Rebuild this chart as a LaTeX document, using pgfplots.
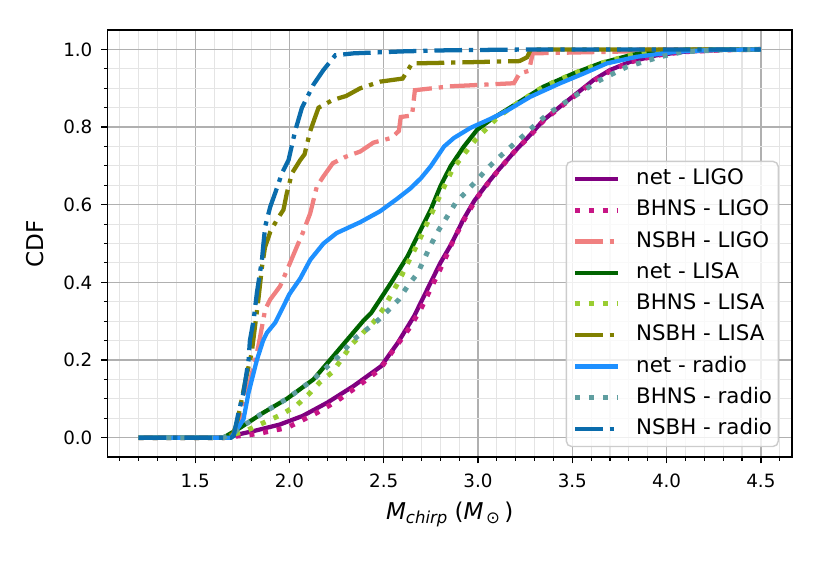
\documentclass[border=0pt]{standalone}
\usepackage{fontspec}
\setmainfont{DejaVu Sans}
\usepackage{pgfplots}
\pgfplotsset{compat=1.18}
\definecolor{cNetLIGO}{RGB}{128,0,128}
\definecolor{cBhnsLIGO}{RGB}{199,21,133}
\definecolor{cNsbhLIGO}{RGB}{240,128,128}
\definecolor{cNetLISA}{RGB}{0,100,0}
\definecolor{cBhnsLISA}{RGB}{154,205,50}
\definecolor{cNsbhLISA}{RGB}{128,128,0}
\definecolor{cNetRadio}{RGB}{30,144,255}
\definecolor{cBhnsRadio}{RGB}{95,158,160}
\definecolor{cNsbhRadio}{RGB}{10,108,172}
\definecolor{majgrid}{RGB}{176,176,176}
\definecolor{mingrid}{RGB}{228,228,228}
\definecolor{legedge}{RGB}{204,204,204}
\tikzset{
  solidline/.style={line width=2.4pt, line join=round},
  dotline/.style={line width=2.8pt, dash pattern=on 2.8pt off 5pt},
  dashdotline/.style={line width=2.4pt, dash pattern=on 15.5pt off 3.9pt on 2.4pt off 3.9pt},
}
\newcommand{\subtxt}[1]{\raisebox{-2.2pt}{\fontsize{9.3}{10}\selectfont #1}}
\begin{document}
\begin{tikzpicture}
\useasboundingbox (-60.5pt,-59.6pt) rectangle (401.9pt,257.1pt);
\begin{axis}[
  at={(0pt,0pt)}, anchor=south west, scale only axis,
  width=385pt, height=240.2pt,
  xmin=1.035, xmax=4.665, ymin=-0.05, ymax=1.05,
  xtick={1.5,2,2.5,3,3.5,4,4.5},
  minor xtick={1.1,1.2,1.3,1.4,1.6,1.7,1.8,1.9,2.1,2.2,2.3,2.4,2.6,2.7,2.8,2.9,3.1,3.2,3.3,3.4,3.6,3.7,3.8,3.9,4.1,4.2,4.3,4.4,4.6},
  ytick={0,0.2,0.4,0.6,0.8,1.0},
  minor ytick={0.05,0.1,0.15,0.25,0.3,0.35,0.45,0.5,0.55,0.65,0.7,0.75,0.85,0.9,0.95},
  grid=both,
  major grid style={color=majgrid, line width=0.8pt},
  minor grid style={color=mingrid, line width=0.6pt},
  tick align=outside, xtick pos=bottom, ytick pos=left,
  major tick length=3.5pt, minor tick length=2pt,
  every tick/.style={black, line width=0.8pt},
  every minor tick/.style={black, line width=0.6pt},
  axis line style={black, line width=0.8pt},
  /pgf/number format/assume math mode=true,
  tick label style={font=\fontsize{10.3}{12}\selectfont},
  xticklabel style={yshift=-2.5pt, /pgf/number format/fixed,/pgf/number format/fixed zerofill,/pgf/number format/precision=1},
  yticklabel style={xshift=-1.5pt, /pgf/number format/fixed,/pgf/number format/fixed zerofill,/pgf/number format/precision=1},
  label style={font=\fontsize{13}{15}\selectfont},
  xlabel={\textit{M}\subtxt{\textit{chirp}}\hspace{4pt}(\textit{M}\hspace{1.5pt}\subtxt{⊙}\hspace{2.5pt})},
  ylabel={CDF},
  xlabel style={at={(axis description cs:0.5,-0.1474)}, anchor=base},
  ylabel style={at={(axis description cs:-0.1065,0.5)}, anchor=center},
  legend style={at={(axis description cs:0.981,0.023)}, anchor=south east,
    draw=legedge, fill=white, fill opacity=0.8, text opacity=1, draw opacity=1,
    rounded corners=3pt, line width=0.8pt,
    font=\fontsize{12}{14}\selectfont,
    inner xsep=3.5pt, inner ysep=4pt, row sep=6pt, column sep=9pt,
    nodes={inner sep=0pt, text height=9pt, text depth=2.6pt}},
  legend cell align=left,
  legend image code/.code={\draw[#1] (0pt,0pt) -- (24pt,0pt);},
]
% net - LIGO
\addplot[cNetLIGO, solidline] coordinates {
(1.2,0)(1.65,0)(1.81,0.017)(1.95,0.034)(2.07,0.056)(2.2,0.09)(2.34,0.133)(2.486,0.184)(2.574,0.244)(2.661,0.313)(2.73,0.381)(2.80,0.45)(2.86,0.50)(2.92,0.56)(2.98,0.61)(3.05,0.655)(3.10,0.685)(3.19,0.735)(3.277,0.78)(3.347,0.818)(3.436,0.853)(3.524,0.887)(3.612,0.921)(3.70,0.947)(3.806,0.968)(3.947,0.985)(4.09,0.994)(4.3,0.999)(4.5,1)};
\addlegendentry{net - LIGO}
% BHNS - LIGO
\addplot[cBhnsLIGO, dotline] coordinates {
(1.2,0)(1.65,0)(1.83,0.01)(1.99,0.026)(2.145,0.064)(2.25,0.094)(2.375,0.137)(2.48,0.176)(2.55,0.225)(2.64,0.285)(2.70,0.335)(2.76,0.395)(2.82,0.455)(2.87,0.51)(2.93,0.565)(2.99,0.615)(3.06,0.66)(3.11,0.69)(3.19,0.735)(3.28,0.78)(3.35,0.818)(3.44,0.853)(3.53,0.887)(3.62,0.921)(3.71,0.947)(3.81,0.968)(3.95,0.985)(4.09,0.994)(4.3,0.999)(4.5,1)};
\addlegendentry{BHNS - LIGO}
% NSBH - LIGO
\addplot[cNsbhLIGO, dashdotline] coordinates {
(1.2,0)(1.68,0)(1.72,0.02)(1.765,0.098)(1.81,0.184)(1.835,0.236)(1.871,0.33)(1.898,0.356)(1.95,0.39)(1.995,0.441)(2.04,0.493)(2.07,0.527)(2.11,0.578)(2.145,0.647)(2.18,0.673)(2.23,0.707)(2.3,0.724)(2.375,0.737)(2.445,0.76)(2.54,0.772)(2.58,0.79)(2.59,0.826)(2.65,0.83)(2.665,0.895)(2.85,0.905)(3.19,0.913)(3.22,0.938)(3.27,0.945)(3.29,0.99)(3.8,0.995)(3.85,1)(4.5,1)};
\addlegendentry{NSBH - LIGO}
% net - LISA
\addplot[cNetLISA, solidline] coordinates {
(1.2,0)(1.65,0)(1.74,0.026)(1.86,0.064)(1.986,0.1)(2.127,0.15)(2.25,0.22)(2.39,0.30)(2.433,0.321)(2.539,0.399)(2.626,0.467)(2.696,0.536)(2.749,0.587)(2.80,0.647)(2.854,0.699)(2.925,0.75)(2.995,0.793)(3.07,0.82)(3.206,0.861)(3.347,0.904)(3.506,0.938)(3.647,0.964)(3.806,0.985)(3.91,0.994)(4.1,0.999)(4.5,1)};
\addlegendentry{net - LISA}
% BHNS - LISA
\addplot[cBhnsLISA, dotline] coordinates {
(1.2,0)(1.65,0)(1.78,0.02)(1.96,0.06)(2.04,0.084)(2.10,0.111)(2.16,0.142)(2.23,0.17)(2.33,0.24)(2.45,0.30)(2.495,0.33)(2.58,0.403)(2.618,0.441)(2.68,0.50)(2.73,0.553)(2.80,0.626)(2.863,0.69)(2.93,0.733)(2.986,0.767)(3.047,0.797)(3.109,0.827)(3.206,0.861)(3.347,0.904)(3.506,0.938)(3.647,0.964)(3.806,0.985)(3.91,0.994)(4.1,0.999)(4.5,1)};
\addlegendentry{BHNS - LISA}
% NSBH - LISA
\addplot[cNsbhLISA, dashdotline] coordinates {
(1.2,0)(1.66,0)(1.70,0.01)(1.72,0.035)(1.735,0.07)(1.77,0.155)(1.80,0.22)(1.835,0.356)(1.854,0.44)(1.87,0.49)(1.898,0.53)(1.933,0.561)(1.968,0.587)(1.986,0.63)(2.013,0.681)(2.057,0.715)(2.08,0.73)(2.11,0.79)(2.137,0.827)(2.154,0.85)(2.23,0.87)(2.3,0.88)(2.375,0.90)(2.48,0.917)(2.60,0.925)(2.65,0.964)(2.85,0.966)(3.22,0.97)(3.26,0.98)(3.28,1.0)(4.5,1)};
\addlegendentry{NSBH - LISA}
% net - radio
\addplot[cNetRadio, solidline] coordinates {
(1.2,0)(1.69,0)(1.72,0.02)(1.756,0.047)(1.783,0.116)(1.827,0.2)(1.86,0.25)(1.88,0.27)(1.924,0.296)(2.0,0.37)(2.057,0.41)(2.11,0.458)(2.18,0.5)(2.25,0.527)(2.375,0.555)(2.48,0.583)(2.57,0.615)(2.644,0.643)(2.70,0.67)(2.749,0.699)(2.82,0.75)(2.872,0.772)(2.96,0.798)(3.065,0.821)(3.153,0.842)(3.277,0.878)(3.436,0.913)(3.56,0.938)(3.683,0.964)(3.84,0.981)(4.05,0.994)(4.25,0.999)(4.5,1)};
\addlegendentry{net - radio}
% BHNS - radio
\addplot[cBhnsRadio, dotline] coordinates {
(1.2,0)(1.65,0)(1.74,0.026)(1.86,0.064)(1.986,0.1)(2.127,0.15)(2.27,0.214)(2.34,0.253)(2.40,0.275)(2.46,0.298)(2.52,0.326)(2.58,0.356)(2.626,0.39)(2.68,0.424)(2.75,0.497)(2.793,0.536)(2.837,0.57)(2.88,0.604)(2.942,0.636)(2.995,0.664)(3.056,0.697)(3.118,0.725)(3.18,0.752)(3.25,0.782)(3.312,0.81)(3.374,0.835)(3.506,0.878)(3.647,0.921)(3.788,0.955)(3.965,0.981)(4.088,0.994)(4.3,0.999)(4.5,1)};
\addlegendentry{BHNS - radio}
% NSBH - radio
\addplot[cNsbhRadio, dashdotline] coordinates {
(1.2,0)(1.69,0)(1.703,0.004)(1.73,0.065)(1.756,0.116)(1.783,0.2)(1.79,0.25)(1.81,0.304)(1.827,0.373)(1.854,0.458)(1.86,0.49)(1.871,0.544)(1.898,0.595)(1.924,0.63)(1.96,0.681)(1.995,0.715)(2.03,0.79)(2.066,0.85)(2.128,0.91)(2.18,0.947)(2.243,0.985)(2.34,0.99)(2.6,0.995)(2.85,0.998)(3.3,1)(4.5,1)};
\addlegendentry{NSBH - radio}
\end{axis}
\end{tikzpicture}
\end{document}
